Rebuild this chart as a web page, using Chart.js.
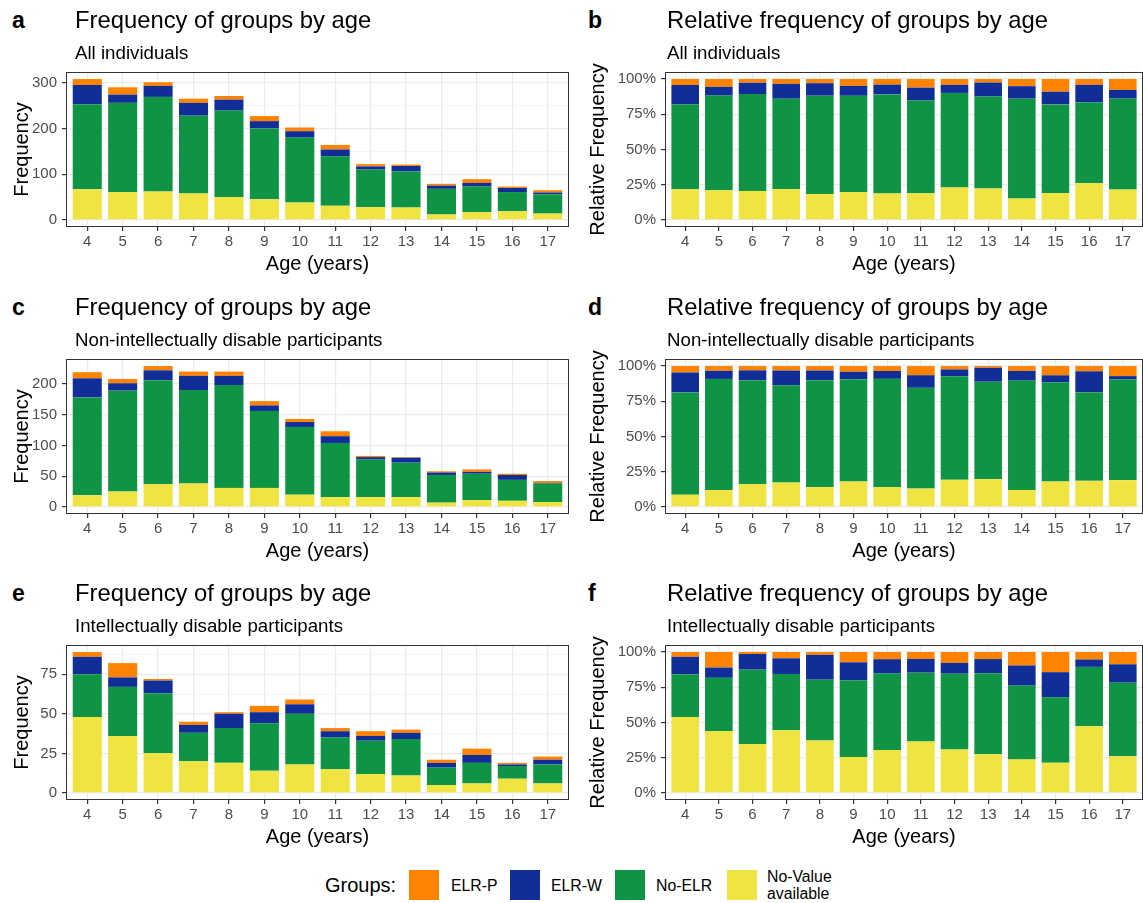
<!DOCTYPE html>
<html>
<head>
<meta charset="utf-8">
<script src="https://cdn.jsdelivr.net/npm/chart.js@4.4.1/dist/chart.umd.min.js"></script>
<style>
  body { margin: 0; width: 1143px; height: 903px; position: relative; overflow: hidden; background: #fff;
         font-family: "Liberation Sans", Arial, Helvetica, sans-serif; color: #000; }
  .tag { position: absolute; font-size: 23px; font-weight: bold; line-height: 1; }
  .title { position: absolute; font-size: 23.8px; line-height: 1; white-space: nowrap; }
  .sub { position: absolute; font-size: 18.7px; line-height: 1; white-space: nowrap; }
  canvas { position: absolute; }
  .legend { position: absolute; left: 0; top: 0; font-size: 15.8px; }
  .legend div { position: absolute; white-space: nowrap; }
  .key { width: 30px; height: 30px; }
</style>
</head>
<body>
<div id="page"></div>
<div class="legend">
  <div style="left:325px;top:875px;font-size:20px;line-height:1;">Groups:</div>
  <div class="key" style="left:409px;top:870px;background:#FF8200;"></div>
  <div style="left:451px;top:878px;line-height:1;">ELR-P</div>
  <div class="key" style="left:510px;top:870px;background:#102D98;"></div>
  <div style="left:551px;top:878px;line-height:1;">ELR-W</div>
  <div class="key" style="left:615px;top:870px;background:#0E9444;"></div>
  <div style="left:656px;top:878px;line-height:1;">No-ELR</div>
  <div class="key" style="left:727px;top:870px;background:#F0E442;"></div>
  <div style="left:767px;top:868px;line-height:1.1;">No-Value<br>available</div>
</div>
<script>
// ages on the x axis
var ages = [4, 5, 6, 7, 8, 9, 10, 11, 12, 13, 14, 15, 16, 17];

// all individuals (counts)
var allNoValue = [67, 61, 62, 58, 50, 45, 38, 31, 28, 27, 12, 17, 19, 14];
var allNoELR   = [186, 195, 207, 170, 189, 155, 142, 108, 82, 79, 56, 56, 42, 42];
var allELRW    = [42, 18, 24, 28, 24, 16, 14, 15, 7, 12, 7, 8, 9, 4];
var allELRP    = [13, 16, 8, 9, 8, 11, 8, 10, 5, 3, 4, 8, 3, 5];

// non-intellectually disable participants (counts)
var nonNoValue = [19, 25, 37, 38, 31, 31, 20, 16, 16, 16, 7, 11, 10, 8];
var nonNoELR   = [159, 164, 169, 152, 167, 125, 110, 88, 61, 56, 45, 43, 34, 30];
var nonELRW    = [31, 12, 16, 23, 15, 9, 8, 11, 4, 8, 4, 3, 8, 1];
var nonELRP    = [10, 7, 7, 7, 7, 7, 5, 8, 2, 1, 2, 4, 2, 3];

// intellectually disable participants (counts)
var idNoValue = [48, 36, 25, 20, 19, 14, 18, 15, 12, 11, 5, 6, 9, 6];
var idNoELR   = [27, 31, 38, 18, 22, 30, 32, 20, 21, 23, 11, 13, 8, 12];
var idELRW    = [11, 6, 8, 5, 9, 7, 6, 4, 3, 4, 3, 5, 1, 3];
var idELRP    = [3, 9, 1, 2, 1, 4, 3, 2, 3, 2, 2, 4, 1, 2];

var groupNames = ["No-Value available", "No-ELR", "ELR-W", "ELR-P"];
var groupColors = ["#F0E442", "#0E9444", "#102D98", "#FF8200"];

Chart.defaults.font.family = '"Liberation Sans", Arial, Helvetica, sans-serif';
Chart.defaults.animation = false;

var panelBorder = {
  id: "panelBorder",
  afterDraw: function (chart) {
    var a = chart.chartArea;
    var ctx = chart.ctx;
    ctx.save();
    ctx.strokeStyle = "#333333";
    ctx.lineWidth = 1;
    ctx.strokeRect(a.left + 0.5, a.top + 0.5, a.right - a.left - 1, a.bottom - a.top - 1);
    ctx.restore();
  },
};

var rowTops = [72, 359, 645];
var plotH = 155;
var xAxisH = 50;
var padTop = 20; // room above the plot so the rotated y title is not cut

var panels = [
  { tag: "a", col: 0, row: 0, rel: false, step: 100, sub: "All individuals",
    series: [allNoValue, allNoELR, allELRW, allELRP] },
  { tag: "b", col: 1, row: 0, rel: true, step: 0.25, sub: "All individuals",
    series: [allNoValue, allNoELR, allELRW, allELRP] },
  { tag: "c", col: 0, row: 1, rel: false, step: 50, sub: "Non-intellectually disable participants",
    series: [nonNoValue, nonNoELR, nonELRW, nonELRP] },
  { tag: "d", col: 1, row: 1, rel: true, step: 0.25, sub: "Non-intellectually disable participants",
    series: [nonNoValue, nonNoELR, nonELRW, nonELRP] },
  { tag: "e", col: 0, row: 2, rel: false, step: 25, sub: "Intellectually disable participants",
    series: [idNoValue, idNoELR, idELRW, idELRP] },
  { tag: "f", col: 1, row: 2, rel: true, step: 0.25, sub: "Intellectually disable participants",
    series: [idNoValue, idNoELR, idELRW, idELRP] },
];

// column geometry: canvas left, canvas width, y axis width, title x, tag x
var cols = [
  { left: 0, width: 571, axisW: 66, titleX: 75, tagX: 12, yTitlePad: 10.5, padRight: 2 },
  { left: 580, width: 563, axisW: 85, titleX: 667, tagX: 588, yTitlePad: 6.5, padRight: 0 },
];

var page = document.getElementById("page");

function addText(cls, text, x, y) {
  var d = document.createElement("div");
  d.className = cls;
  d.textContent = text;
  d.style.left = x + "px";
  d.style.top = y + "px";
  page.appendChild(d);
}

panels.forEach(function (p) {
  var c = cols[p.col];
  var top = rowTops[p.row];
  var off = top - 72;

  var canvas = document.createElement("canvas");
  canvas.style.left = c.left + "px";
  canvas.style.top = top - padTop + "px";
  canvas.style.width = c.width + "px";
  canvas.style.height = padTop + plotH + xAxisH + "px";
  canvas.width = c.width;
  canvas.height = padTop + plotH + xAxisH;
  page.appendChild(canvas);

  addText("tag", p.tag, c.tagX, 8.8 + off);
  addText("title", p.rel ? "Relative frequency of groups by age" : "Frequency of groups by age", c.titleX, 8.3 + off);
  addText("sub", p.sub, c.titleX, 43.5 + off);

  var totals = ages.map(function (a, i) {
    return p.series[0][i] + p.series[1][i] + p.series[2][i] + p.series[3][i];
  });
  var ymax = p.rel ? 1 : Math.max.apply(null, totals);

  var datasets = p.series.map(function (vals, k) {
    return {
      label: groupNames[k],
      backgroundColor: groupColors[k],
      borderWidth: 0,
      barPercentage: 0.82,
      categoryPercentage: 1,
      data: vals.map(function (v, i) {
        return { x: ages[i], y: p.rel ? v / totals[i] : v };
      }),
    };
  });

  new Chart(canvas, {
    type: "bar",
    data: { datasets: datasets },
    plugins: [panelBorder],
    options: {
      responsive: false,
      layout: { padding: { top: padTop, right: c.padRight, left: 0, bottom: 0 } },
      plugins: { legend: { display: false }, tooltip: { enabled: false } },
      scales: {
        x: {
          type: "linear",
          stacked: true,
          offset: false,
          min: 3.4,
          max: 17.6,
          afterBuildTicks: function (scale) {
            scale.ticks = ages.map(function (a) { return { value: a }; });
          },
          afterFit: function (scale) {
            scale.height = xAxisH;
            scale.paddingLeft = 0;
            scale.paddingRight = 0;
          },
          ticks: { color: "#4D4D4D", font: { size: 15 }, padding: 2, autoSkip: false, maxRotation: 0 },
          grid: { offset: false, color: "#EBEBEB", lineWidth: 1.2, tickLength: 4, tickColor: "#333333" },
          border: { display: false },
          title: { display: true, text: "Age (years)", color: "#000", font: { size: 20 },
                   padding: { top: 0, bottom: 0.5 } },
        },
        y: {
          stacked: true,
          min: -0.05 * ymax,
          max: 1.05 * ymax,
          afterBuildTicks: function (scale) {
            var list = [];
            var half = p.step / 2;
            for (var n = 0; n * half <= scale.max + 1e-9; n++) {
              list.push({ value: n * half, minor: n % 2 === 1 });
            }
            scale.ticks = list;
          },
          afterFit: function (scale) {
            scale.width = c.axisW;
            scale.paddingTop = 0;
            scale.paddingBottom = 0;
          },
          ticks: {
            color: "#4D4D4D",
            font: { size: 15 },
            padding: 5,
            callback: function (value, index, ticks) {
              if (ticks[index].minor) return "";
              return p.rel ? Math.round(value * 100) + "%" : value;
            },
          },
          grid: {
            tickLength: 4,
            color: function (ctx) { return ctx.tick && ctx.tick.minor ? "#F3F3F3" : "#EBEBEB"; },
            lineWidth: function (ctx) { return ctx.tick && ctx.tick.minor ? 0.8 : 1.2; },
            tickColor: function (ctx) { return ctx.tick && ctx.tick.minor ? "rgba(0,0,0,0)" : "#333333"; },
          },
          border: { display: false },
          title: { display: true, text: p.rel ? "Relative Frequency" : "Frequency", color: "#000",
                   font: { size: 20 }, padding: { top: c.yTitlePad, bottom: 0 } },
        },
      },
    },
  });
});
</script>
</body>
</html>
